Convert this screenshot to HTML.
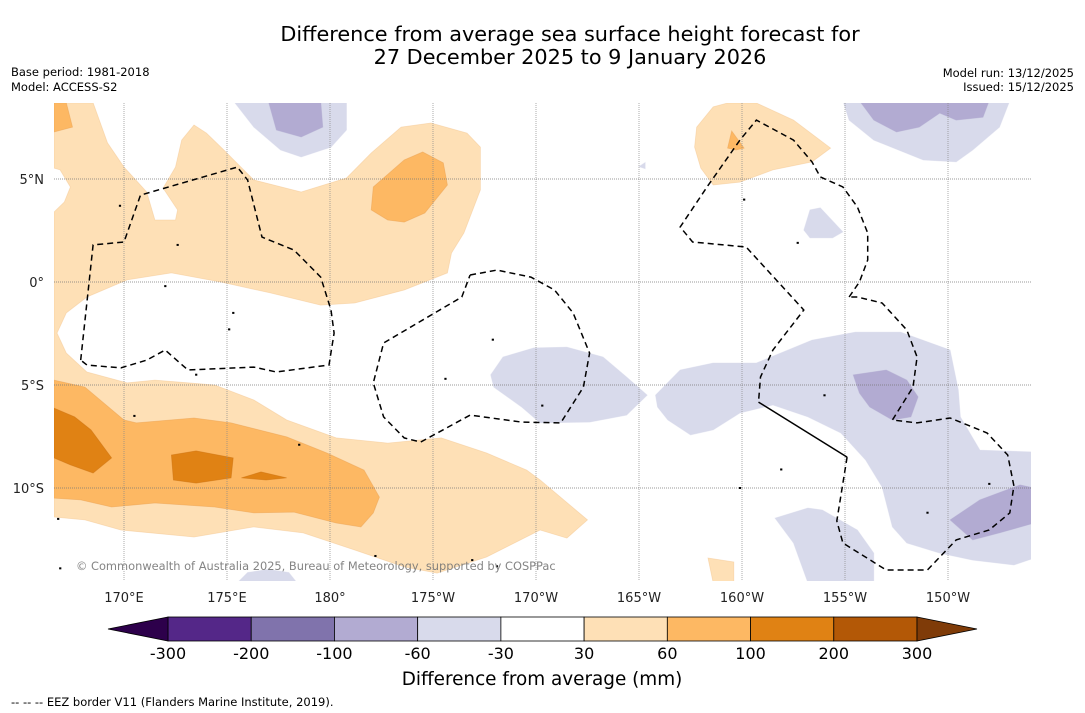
<!DOCTYPE html>
<html><head><meta charset="utf-8"><style>
html,body{margin:0;padding:0;background:#fff;width:1085px;height:713px;overflow:hidden;font-family:"Liberation Sans","DejaVu Sans",sans-serif}
</style></head><body>
<svg id="chart" width="1085" height="713" xmlns="http://www.w3.org/2000/svg" font-family="'DejaVu Sans','Liberation Sans',sans-serif">
<text x="570" y="41" text-anchor="middle" font-size="20.8" fill="#000">Difference from average sea surface height forecast for</text>
<text x="570" y="64" text-anchor="middle" font-size="20.8" fill="#000">27 December 2025 to 9 January 2026</text>
<text x="11" y="76" font-size="11.5">Base period: 1981-2018</text>
<text x="11" y="91" font-size="11.5">Model: ACCESS-S2</text>
<text x="1074" y="77" font-size="11.5" text-anchor="end">Model run: 13/12/2025</text>
<text x="1074" y="91" font-size="11.5" text-anchor="end">Issued: 15/12/2025</text>
<defs><clipPath id="mapclip"><rect x="54" y="103" width="977" height="478"/></clipPath></defs>
<g id="map" clip-path="url(#mapclip)"></g>
<g id="axes"></g>
<text x="76" y="570" font-size="11.4" fill="#777" opacity="0.9">© Commonwealth of Australia 2025, Bureau of Meteorology, supported by COSPPac</text>
<g id="cbar"></g>
<text x="542" y="685" text-anchor="middle" font-size="18.4">Difference from average (mm)</text>
<text x="11" y="706" font-size="11.5">--  --  -- EEZ border V11 (Flanders Marine Institute, 2019).</text>
</svg>
<script>
// ---- data ----
const cbLevels = [-300,-200,-100,-60,-30,30,60,100,200,300];
const cbColors = ["#542788","#8073ac","#b2abd2","#d8daeb","#ffffff","#fee0b6","#fdb863","#e08214","#b35806"];
const cbExtendColors = ["#2d004b","#7f3b08"];
const lonTicks = [170,175,180,185,190,195,200,205,210];
const lonTickLabels = ["170°E","175°E","180°","175°W","170°W","165°W","160°W","155°W","150°W"];
const latTicks = [5,0,-5,-10];
const latTickLabels = ["5°N","0°","5°S","10°S"];
// contour regions (lon 0-360, lat)
const orange30 = [
 [[166.6,8.7],[166.6,5.53],[166.9,5.44],[167.4,4.61],[167.1,3.88],[166.6,3.4],[166.6,-11.41],[168.1,-11.55],[169.85,-12.04],[173.4,-12.38],[176.3,-11.89],[178.7,-12.18],[181.2,-13.01],[183.6,-13.83],[185.2,-14.13],[187.6,-13.35],[190.2,-12.04],[191.5,-12.43],[192.5,-11.55],[190.2,-9.61],[189.55,-9.13],[187.6,-8.3],[185.4,-7.57],[182.8,-7.82],[180.3,-7.57],[177.9,-6.7],[176.3,-5.73],[174.4,-5.0],[171.5,-4.76],[170.15,-4.9],[168.2,-4.37],[167.2,-3.45],[166.75,-2.48],[167.2,-1.5],[168.2,-0.73],[170.15,0.1],[172.3,0.44],[174.7,0],[177.1,-0.53],[179.55,-1.12],[181.2,-1.02],[183.6,-0.39],[185.7,0.44],[185.9,1.41],[186.5,2.38],[187.3,4.47],[187.3,6.55],[186.65,7.23],[184.9,7.72],[183.45,7.52],[182.0,6.26],[180.8,5.05],[178.6,4.37],[176.3,4.95],[174.85,6.41],[174.0,7.23],[173.4,7.62],[172.8,6.89],[172.5,5.58],[171.9,4.56],[172.6,3.5],[172.5,3.01],[171.5,3.01],[171.1,4.37],[170,5.58],[169.2,6.75],[168.5,8.7]],
 [[197.8,7.52],[198.6,8.5],[199.3,8.69],[200.7,8.69],[202.5,7.86],[204.3,6.5],[203.4,5.83],[201.5,5.44],[199.9,4.85],[198.6,4.71],[198.0,5.53],[197.7,6.55]],
 [[198.35,-13.4],[199.6,-13.59],[199.6,-14.6],[198.6,-14.6]]
];
const orange60 = [
 [[166.6,8.7],[167.2,8.7],[167.5,7.52],[166.6,7.28]],
 [[182.0,3.5],[182.1,4.61],[183.6,5.92],[184.5,6.31],[185.5,5.78],[185.7,4.71],[184.6,3.35],[183.6,2.91],[182.8,3.01]],
 [[166.6,-4.76],[168.1,-5.1],[170,-6.7],[170.6,-6.84],[173.4,-6.6],[175.2,-6.84],[177.9,-7.52],[179.85,-8.3],[181.65,-9.13],[182.4,-10.44],[182.1,-11.21],[181.5,-11.89],[180.3,-11.7],[178.25,-11.17],[176.3,-11.21],[174.4,-10.92],[171.5,-10.73],[169.4,-10.92],[167.9,-10.58],[166.6,-10.49]],
 [[199.5,7.33],[200.1,6.5],[199.7,6.41],[199.3,6.5]]
];
const orange100 = [
 [[166.6,-6.12],[167.6,-6.55],[168.4,-7.18],[169.4,-8.54],[168.5,-9.27],[167.4,-8.88],[166.6,-8.54]],
 [[172.3,-8.4],[173.5,-8.2],[175.3,-8.54],[175.2,-9.51],[173.5,-9.76],[172.4,-9.61]],
 [[175.7,-9.51],[176.65,-9.22],[177.9,-9.51],[176.9,-9.61]]
];
const blue30 = [
 [[175.3,8.8],[180.8,8.8],[180.8,7.38],[180.05,6.55],[178.6,6.07],[177.6,6.41],[176.3,7.52]],
 [[187.8,-4.51],[188.4,-3.64],[189.9,-3.2],[191.5,-3.16],[193.25,-3.64],[194.4,-4.61],[195.4,-5.49],[194.4,-6.46],[192.6,-6.8],[190.2,-6.84],[189.3,-6.07],[187.95,-5.1]],
 [[195.8,-5.49],[197.0,-4.27],[198.6,-3.93],[200.7,-3.93],[203.4,-2.82],[205.5,-2.43],[207.7,-2.43],[210.1,-3.3],[210.5,-5.24],[210.6,-6.55],[211.55,-8.16],[214.2,-8.25],[214.2,-13.4],[213.2,-13.74],[211.2,-13.5],[209.6,-13.16],[208.0,-12.67],[207.3,-11.89],[206.8,-9.95],[206.0,-8.64],[204.8,-7.33],[203.2,-6.55],[201.5,-5.97],[199.9,-6.36],[198.6,-7.18],[197.5,-7.42],[196.4,-6.7],[195.9,-6.07]],
 [[204.9,8.8],[213.0,8.8],[212.5,7.52],[211.2,6.41],[210.4,5.83],[208.8,5.92],[206.4,6.89],[205.2,7.86]],
 [[203.0,2.52],[203.3,3.5],[203.8,3.6],[204.9,2.43],[204.4,2.14],[203.3,2.14]],
 [[201.6,-11.46],[203.2,-10.97],[203.9,-11.07],[205.6,-12.04],[206.4,-13.16],[206.4,-14.6],[203.2,-14.6],[202.5,-12.67]],
 [[175.5,-14.6],[176.0,-14.1],[177.0,-13.95],[178.0,-14.1],[178.4,-14.6]],
 [[195.0,5.6],[195.3,5.8],[195.3,5.5]]
];
const blue60 = [
 [[177.0,8.8],[179.55,8.8],[179.65,7.52],[178.6,7.04],[177.4,7.38]],
 [[205.4,-4.51],[207.0,-4.27],[208.0,-4.76],[208.55,-5.58],[208.2,-6.55],[207.3,-6.7],[206.2,-6.07],[205.7,-5.39]],
 [[210.1,-11.55],[211.55,-10.58],[213.5,-9.85],[214.2,-10.0],[214.2,-11.7],[212.5,-12.18],[211.2,-12.52]],
 [[205.7,8.8],[212.0,8.8],[211.7,8.0],[210.4,7.86],[209.6,8.2],[208.6,7.52],[207.5,7.28],[206.4,7.86]]
];
const eezDashed = [
 [[167.9,-3.79],[168.5,1.8],[170,1.94],[170.8,4.22],[175.5,5.58],[176.0,4.95],[176.7,2.18],[178.25,1.55],[179.55,0.24],[180.05,-1.36],[180.2,-2.48],[179.95,-4.03],[177.4,-4.37],[176.3,-4.13],[173.1,-4.27],[172.0,-3.3],[171.1,-3.79],[169.85,-4.17],[168.2,-4.03],[167.9,-3.79]],
 [[186.8,0.34],[188.1,0.58],[189.75,0.24],[190.9,-0.39],[191.8,-1.5],[192.6,-3.45],[192.3,-5.1],[191.2,-6.84],[189.3,-6.8],[186.8,-6.46],[184.4,-7.77],[183.6,-7.57],[182.6,-6.55],[182.1,-4.9],[182.6,-2.96],[186.4,-0.73],[186.8,0.34]],
 [[205.2,-0.73],[205.7,0],[206.1,1.07],[206.1,2.38],[205.6,3.64],[204.9,4.61],[203.8,5.1],[203.4,5.83],[202.5,6.89],[200.7,7.86],[199.9,6.89],[198.3,4.61],[197.0,2.67],[197.6,1.94],[200.2,1.7],[203.0,-1.36],[201.5,-3.3],[200.9,-4.61],[200.8,-5.83]],
 [[205.1,-8.5],[204.6,-11.6],[204.9,-12.67],[207.0,-13.98],[209.0,-13.98],[210.4,-12.52],[212.0,-12.04],[213.0,-11.21],[213.2,-9.9],[212.9,-8.4],[211.9,-7.33],[210.1,-6.6],[208.5,-6.84],[207.3,-6.7],[208.3,-5.1],[208.5,-3.64],[208.0,-2.33],[206.8,-1.02],[205.6,-0.73],[205.2,-0.73]]
];
const eezSolid = [[[200.8,-5.83],[205.1,-8.5]]];
const islands = [[172.0,-0.2],[175.3,-1.5],[173.5,-4.5],[178.5,-7.9],[185.6,-4.7],[187.9,-2.8],[190.3,-6.0],[199.9,-10.0],[201.9,-9.1],[204.0,-5.5],[200.1,4.0],[202.7,1.9],[209.0,-11.2],[170.5,-6.5],[182.2,-13.3],[186.9,-13.5],[188.1,-13.8],[166.8,-11.5],[166.9,-13.9],[212.0,-9.8],[169.8,3.7],[172.6,1.8],[175.1,-2.3]];

// ---- axes functions ----
const X0=54,X1=1031,Y0=103,Y1=581;
function xs(lon){return 124+(lon-170)*20.6;}
function ys(lat){return 282-lat*20.6;}
const NS="http://www.w3.org/2000/svg";
function mk(tag,attrs,parent){const e=document.createElementNS(NS,tag);for(const k in attrs)e.setAttribute(k,attrs[k]);parent.appendChild(e);return e;}
function pts(poly){return poly.map(p=>xs(p[0]).toFixed(1)+","+ys(p[1]).toFixed(1)).join(" ");}
const map=document.getElementById('map');
function drawFill(list,color,name,strokeCol){
 list.forEach((poly)=>{
  const e=mk('polygon',{points:pts(poly),fill:color,stroke:strokeCol,'stroke-width':0.8,'stroke-opacity':0.5},map);
  
  
 });
}
drawFill(orange30,cbColors[5],'anomaly-region-30-60','#f3c690');
drawFill(orange60,cbColors[6],'anomaly-region-60-100','#e9a050');
drawFill(orange100,cbColors[7],'anomaly-region-100-200','#c97010');
drawFill(blue30,cbColors[3],'anomaly-region-minus60-minus30','#d8daeb');
drawFill(blue60,cbColors[2],'anomaly-region-minus100-minus60','#b2abd2');
// gridlines
const axes=document.getElementById('axes');
lonTicks.forEach((lon,i)=>{
 const l=mk('line',{x1:xs(lon),x2:xs(lon),y1:Y0,y2:Y1,stroke:'#888','stroke-width':0.7,'stroke-dasharray':'1,1'},map);
 
 
 const t=mk('text',{x:xs(lon),y:602,'text-anchor':'middle','font-size':13,fill:'#222'},axes);
 t.textContent=lonTickLabels[i];
 
 
});
latTicks.forEach((lat,i)=>{
 const l=mk('line',{x1:X0,x2:X1,y1:ys(lat),y2:ys(lat),stroke:'#777','stroke-width':0.7,'stroke-dasharray':'1,1'},map);
 
 
 const t=mk('text',{x:44,y:ys(lat)+5,'text-anchor':'end','font-size':13,fill:'#222'},axes);
 t.textContent=latTickLabels[i];
 
 
});
eezDashed.forEach(line=>{
 const e=mk('polyline',{points:pts(line),fill:'none',stroke:'#000','stroke-width':1.5,'stroke-dasharray':'6,4'},map);
 
 
});
eezSolid.forEach(line=>{
 const e=mk('polyline',{points:pts(line),fill:'none',stroke:'#000','stroke-width':1.5},map);
 
 
});
islands.forEach(p=>{
 const e=mk('rect',{x:xs(p[0])-1,y:ys(p[1])-1,width:2.2,height:2,fill:'#000'},map);
 
 
});
// ---- colorbar ----
const cb=document.getElementById('cbar');
const CBX0=168,CBX1=917,CBY=617,CBH=24,EXT=60;
const n=cbLevels.length-1, bw=(CBX1-CBX0)/n;
function cbx(i){return CBX0+i*bw;}
cbColors.forEach((c,i)=>{
 const r=mk('rect',{x:cbx(i),y:CBY,width:bw,height:CBH,fill:c,stroke:'#000','stroke-width':0.8},cb);
 
 
});
const lt=mk('polygon',{points:`${CBX0},${CBY} ${CBX0-EXT},${CBY+CBH/2} ${CBX0},${CBY+CBH}`,fill:cbExtendColors[0],stroke:'#000','stroke-width':0.8},cb);


const rt=mk('polygon',{points:`${CBX1},${CBY} ${CBX1+EXT},${CBY+CBH/2} ${CBX1},${CBY+CBH}`,fill:cbExtendColors[1],stroke:'#000','stroke-width':0.8},cb);


cbLevels.forEach((v,i)=>{
 const t=mk('text',{x:cbx(i),y:659,'text-anchor':'middle','font-size':16,fill:'#000'},cb);
 t.textContent=String(v);
 
 
});
</script>
</body></html>
